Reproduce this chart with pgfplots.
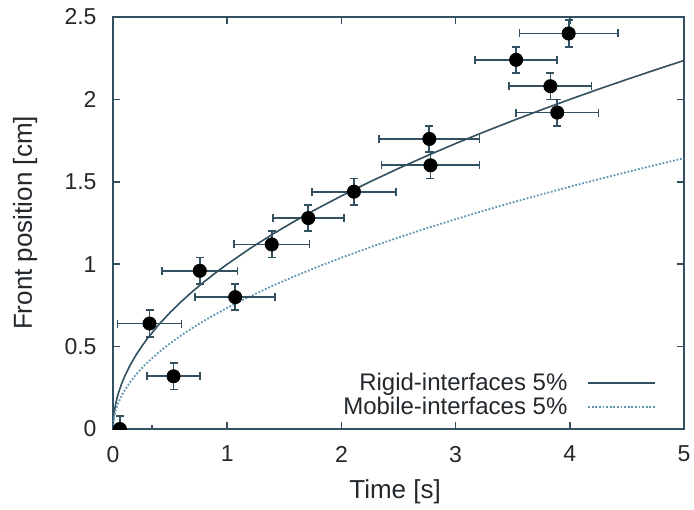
\documentclass[border=0pt]{standalone}
\usepackage{fontspec}
\setmainfont{Liberation Sans}
\usepackage{pgfplots}
\usepackage{pgfplotstable}
\pgfplotsset{compat=1.18}
\definecolor{axc}{RGB}{50,80,95}
\definecolor{dotc}{RGB}{95,150,180}
\definecolor{txt}{RGB}{35,40,45}

\pgfplotstableread{
x y ex ey
0.06 0.00 0.28 0.08
0.32 0.64 0.28 0.08
0.53 0.32 0.23 0.08
0.76 0.96 0.33 0.08
1.07 0.80 0.35 0.08
1.39 1.12 0.33 0.08
1.71 1.28 0.31 0.08
2.11 1.44 0.37 0.08
2.77 1.76 0.44 0.08
2.78 1.60 0.43 0.08
3.53 2.24 0.36 0.08
3.83 2.08 0.36 0.08
3.89 1.92 0.36 0.08
3.99 2.40 0.43 0.08
}\expdata

\pgfplotstableread{
t rigid mobile
0 0 0
0.005 0.0707 0.052
0.01 0.1 0.0735
0.02 0.1414 0.1039
0.035 0.1871 0.1375
0.05 0.2236 0.1643
0.075 0.2739 0.2013
0.1 0.3162 0.2324
0.15 0.3873 0.2847
0.2 0.4472 0.3287
0.25 0.5 0.3675
0.3 0.5477 0.4026
0.4 0.6325 0.4649
0.5 0.7071 0.5197
0.6 0.7746 0.5693
0.7 0.8367 0.6150
0.8 0.8944 0.6574
0.9 0.9487 0.6973
1 1 0.735
1.2 1.0954 0.8051
1.4 1.1832 0.8697
1.6 1.2649 0.9297
1.8 1.3416 0.9861
2 1.4142 1.0394
2.25 1.5 1.1025
2.5 1.5811 1.1621
2.75 1.6583 1.2189
3 1.7321 1.2731
3.25 1.8028 1.3251
3.5 1.8708 1.3750
3.75 1.9365 1.4233
4 2 1.47
4.25 2.0616 1.5153
4.5 2.1213 1.5592
4.75 2.1794 1.6019
5 2.2361 1.6435
}\model

\begin{document}
\begin{tikzpicture}
\useasboundingbox (-56.5pt,-40pt) rectangle (290.5pt,214.5pt);
\begin{axis}[
  scale only axis, width=285.5pt, height=206pt,
  xmin=0, xmax=5, ymin=0, ymax=2.5,
  xtick={0,1,2,3,4,5}, ytick={0,0.5,1,1.5,2,2.5},
  tick align=inside, major tick length=3.5pt,
  axis line style={axc, line width=1pt},
  tick style={axc, line width=0.8pt},
  /pgf/number format/assume math mode=true,
  tick label style={font=\fontsize{11.5}{13}\selectfont, text=txt},
  xticklabel style={yshift=-5pt},
  yticklabel style={xshift=-4.7pt},
  xlabel={Time [s]}, ylabel={Front position [cm]},
  label style={font=\fontsize{13}{15}\selectfont, text=txt},
  xlabel style={at={(axis description cs:0.494,-0.1675)}, anchor=base},
  ylabel style={at={(axis description cs:-0.1419,0.5)}, anchor=base},
  clip marker paths=true,
  legend plot pos=right,
  legend cell align=right,
  legend image code/.code={\draw[#1] (0pt,0pt) -- (33.5pt,0pt);},
  legend style={draw=none, fill=none, at={(rel axis cs:0.952,0.022)}, anchor=south east,
    inner sep=0pt, row sep=0pt, column sep=9pt,
    font=\fontsize{12}{14}\selectfont, text=txt, nodes={inner sep=1pt}},
]
\addplot[axc, line width=0.8pt] table[x=t, y=rigid] {\model};
\addlegendentry{Rigid-interfaces 5\%}
\addplot[dotc, line width=0.9pt, dash pattern=on 0.9pt off 0.9pt] table[x=t, y=mobile] {\model};
\addlegendentry{Mobile-interfaces 5\%}
\addplot[forget plot, only marks, mark=*, mark size=3.3pt, mark options={fill=black, draw=black},
  error bars/.cd, x dir=both, x explicit, y dir=both, y explicit,
  error bar style={axc, line width=0.85pt},
  error mark options={axc, line width=0.85pt, mark size=2pt, rotate=90}]
  table[x=x, y=y, x error=ex, y error=ey] {\expdata};
\end{axis}
\end{tikzpicture}
\end{document}
